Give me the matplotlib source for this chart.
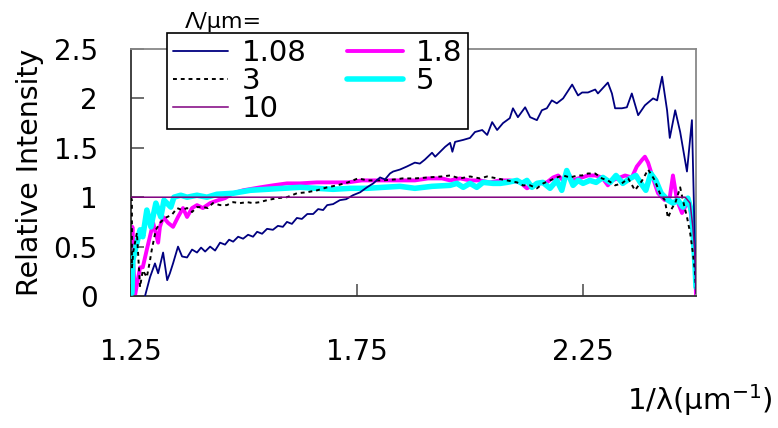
import matplotlib
matplotlib.use("Agg")
import matplotlib.pyplot as plt
import numpy as np

plt.rcParams["font.family"] = ["DejaVu Sans"]

# Lambda / um values shown in the legend
labels = ["1.08", "1.8", "3", "5", "10"]

# 1/lambda (um^-1) and relative intensity
x_108 = [1.281, 1.292, 1.303, 1.310, 1.321, 1.330, 1.336, 1.343, 1.352, 1.354, 1.363, 1.374,
         1.385, 1.396, 1.405, 1.414, 1.425, 1.436, 1.447, 1.458, 1.467, 1.476, 1.487, 1.498,
         1.509, 1.520, 1.529, 1.540, 1.551, 1.564, 1.575, 1.586, 1.595, 1.606, 1.617, 1.628,
         1.640, 1.653, 1.664, 1.675, 1.684, 1.697, 1.712, 1.726, 1.741, 1.757, 1.772, 1.786,
         1.801, 1.812, 1.823, 1.830, 1.845, 1.860, 1.878, 1.889, 1.900, 1.916, 1.923, 1.945,
         1.956, 1.961, 1.967, 1.985, 2.000, 2.011, 2.027, 2.038, 2.049, 2.060, 2.073, 2.088,
         2.095, 2.106, 2.122, 2.133, 2.148, 2.159, 2.170, 2.181, 2.192, 2.206, 2.226, 2.239,
         2.248, 2.261, 2.277, 2.283, 2.305, 2.314, 2.321, 2.336, 2.347, 2.358, 2.372, 2.387,
         2.405, 2.414, 2.425, 2.436, 2.442, 2.454, 2.465, 2.480, 2.491, 2.500]
y_108 = [0.00, 0.19, 0.33, 0.23, 0.44, 0.16, 0.23, 0.33, 0.47, 0.50, 0.40, 0.39,
         0.47, 0.44, 0.49, 0.45, 0.50, 0.46, 0.54, 0.52, 0.57, 0.55, 0.60, 0.58,
         0.62, 0.60, 0.65, 0.63, 0.68, 0.67, 0.71, 0.70, 0.75, 0.73, 0.79, 0.78,
         0.83, 0.83, 0.88, 0.87, 0.92, 0.93, 0.97, 0.98, 1.02, 1.05, 1.10, 1.14,
         1.20, 1.18, 1.24, 1.26, 1.28, 1.31, 1.35, 1.34, 1.38, 1.45, 1.41, 1.51,
         1.55, 1.46, 1.56, 1.58, 1.60, 1.66, 1.68, 1.63, 1.76, 1.68, 1.75, 1.80,
         1.90, 1.81, 1.91, 1.81, 1.78, 1.88, 1.90, 1.98, 1.95, 2.00, 2.14, 2.03,
         2.06, 2.06, 2.09, 2.05, 2.16, 2.05, 1.90, 1.90, 1.91, 2.05, 1.83, 1.93,
         2.00, 1.98, 2.22, 1.88, 1.60, 1.88, 1.66, 1.26, 1.78, 0.03]

x_18 = [1.252, 1.253, 1.255, 1.259, 1.270, 1.276, 1.285, 1.299, 1.310, 1.314, 1.321, 1.332,
        1.343, 1.354, 1.365, 1.374, 1.385, 1.396, 1.409, 1.425, 1.443, 1.458, 1.476, 1.498,
        1.536, 1.564, 1.595, 1.624, 1.661, 1.701, 1.730, 1.761, 1.790, 1.819, 1.850, 1.878,
        1.907, 1.938, 1.956, 1.978, 2.000, 2.022, 2.044, 2.066, 2.088, 2.111, 2.126, 2.139,
        2.155, 2.170, 2.184, 2.195, 2.206, 2.217, 2.228, 2.239, 2.248, 2.261, 2.277, 2.292,
        2.305, 2.314, 2.327, 2.343, 2.358, 2.369, 2.381, 2.387, 2.394, 2.405, 2.416, 2.431,
        2.442, 2.449, 2.458, 2.469, 2.480, 2.487, 2.493, 2.498, 2.500]
y_18 = [0.00, 0.70, 0.33, 0.01, 0.29, 0.29, 0.47, 0.74, 0.54, 0.70, 0.80, 0.74,
        0.70, 0.80, 0.89, 0.80, 0.89, 0.92, 0.89, 0.94, 0.97, 0.99, 1.04, 1.07,
        1.10, 1.12, 1.14, 1.14, 1.15, 1.15, 1.15, 1.17, 1.17, 1.17, 1.17, 1.17,
        1.19, 1.19, 1.17, 1.19, 1.17, 1.17, 1.15, 1.17, 1.17, 1.15, 1.09, 1.12,
        1.14, 1.15, 1.20, 1.22, 1.17, 1.24, 1.17, 1.19, 1.20, 1.22, 1.22, 1.20,
        1.12, 1.17, 1.19, 1.22, 1.20, 1.31, 1.38, 1.41, 1.35, 1.19, 1.04, 0.97,
        1.00, 1.22, 0.97, 0.84, 0.94, 0.90, 0.64, 0.36, 0.00]

x_3 = [1.250, 1.252, 1.252, 1.255, 1.263, 1.270, 1.276, 1.285, 1.292, 1.296, 1.305, 1.314,
       1.325, 1.340, 1.352, 1.363, 1.374, 1.385, 1.396, 1.410, 1.420, 1.431, 1.447, 1.462,
       1.476, 1.491, 1.507, 1.520, 1.535, 1.551, 1.573, 1.595, 1.617, 1.639, 1.662, 1.684,
       1.706, 1.730, 1.752, 1.774, 1.805, 1.834, 1.850, 1.878, 1.907, 1.938, 1.956, 1.978,
       2.000, 2.022, 2.038, 2.060, 2.082, 2.104, 2.117, 2.133, 2.148, 2.162, 2.177, 2.192,
       2.206, 2.221, 2.239, 2.248, 2.261, 2.277, 2.292, 2.305, 2.321, 2.336, 2.350, 2.365,
       2.381, 2.394, 2.409, 2.420, 2.431, 2.438, 2.447, 2.454, 2.465, 2.471, 2.480, 2.487,
       2.493, 2.498, 2.500]
y_3 = [1.00, 0.97, 0.29, 0.45, 0.64, 0.09, 0.26, 0.19, 0.36, 0.47, 0.67, 0.74,
       0.79, 0.82, 0.89, 0.87, 0.89, 0.85, 0.90, 0.90, 0.89, 0.94, 0.92, 0.92,
       0.95, 0.94, 0.95, 0.94, 0.95, 0.97, 0.99, 1.00, 1.04, 1.05, 1.07, 1.10,
       1.12, 1.15, 1.19, 1.17, 1.17, 1.18, 1.19, 1.19, 1.20, 1.21, 1.22, 1.19,
       1.21, 1.19, 1.21, 1.19, 1.17, 1.15, 1.12, 1.12, 1.09, 1.14, 1.17, 1.20,
       1.22, 1.20, 1.22, 1.22, 1.24, 1.24, 1.19, 1.17, 1.12, 1.14, 1.19, 1.07,
       1.17, 1.28, 1.17, 1.04, 0.97, 0.79, 0.89, 0.94, 1.10, 0.97, 0.80, 0.64,
       0.44, 0.23, 0.03]

x_5 = [1.252, 1.254, 1.259, 1.270, 1.276, 1.285, 1.294, 1.305, 1.316, 1.323, 1.338, 1.345,
       1.360, 1.374, 1.396, 1.418, 1.440, 1.476, 1.514, 1.551, 1.587, 1.624, 1.661, 1.697,
       1.735, 1.772, 1.808, 1.845, 1.878, 1.916, 1.956, 1.971, 1.985, 2.000, 2.015, 2.029,
       2.051, 2.067, 2.082, 2.104, 2.115, 2.126, 2.137, 2.148, 2.161, 2.177, 2.192, 2.203,
       2.214, 2.228, 2.239, 2.250, 2.265, 2.279, 2.294, 2.310, 2.323, 2.338, 2.354, 2.367,
       2.378, 2.389, 2.400, 2.411, 2.423, 2.438, 2.449, 2.460, 2.471, 2.482, 2.491, 2.498,
       2.500]
y_5 = [0.03, 0.36, 0.46, 0.67, 0.60, 0.87, 0.70, 0.94, 0.80, 0.97, 0.90, 1.00,
       1.02, 1.00, 1.02, 1.00, 1.03, 1.04, 1.07, 1.08, 1.09, 1.10, 1.09, 1.08,
       1.09, 1.09, 1.10, 1.11, 1.09, 1.11, 1.12, 1.14, 1.10, 1.14, 1.10, 1.15,
       1.14, 1.14, 1.15, 1.17, 1.14, 1.17, 1.10, 1.14, 1.15, 1.09, 1.17, 1.07,
       1.27, 1.12, 1.17, 1.14, 1.17, 1.15, 1.20, 1.15, 1.22, 1.14, 1.19, 1.22,
       1.14, 1.07, 1.24, 1.17, 1.04, 0.97, 0.94, 0.97, 0.90, 0.99, 0.84, 0.29,
       0.09]

x_10 = [1.250, 2.476, 2.487, 2.493, 2.500, 2.500]
y_10 = [1.00, 1.00, 0.94, 0.70, 0.29, 0.03]

x_ticks = [1.25, 1.75, 2.25]
x_tick_labels = ["1.25", "1.75", "2.25"]
y_ticks = [0, 0.5, 1, 1.5, 2, 2.5]
y_tick_labels = ["0", "0.5", "1", "1.5", "2", "2.5"]

fig = plt.figure(figsize=(7.78, 4.28), dpi=100)
ax = fig.add_axes([0.1684, 0.3084, 0.7262, 0.5771])

style = dict(solid_joinstyle="round", solid_capstyle="round")
l18, = ax.plot(x_18, y_18, color="#ff00ff", lw=2.8, zorder=2, **style)
l5, = ax.plot(x_5, y_5, color="#00ffff", lw=4.0, zorder=3, **style)
l3, = ax.plot(x_3, y_3, color="black", lw=1.4, ls=(0, (2, 2)), zorder=4)
l108, = ax.plot(x_108, y_108, color="#000080", lw=1.3, zorder=5, **style)
l10, = ax.plot(x_10, y_10, color="#800080", lw=1.1, zorder=6)

ax.set_xlim(1.25, 2.5)
ax.set_ylim(0, 2.5)
ax.set_xticks(x_ticks)
ax.set_xticklabels(x_tick_labels)
ax.set_yticks(y_ticks)
ax.set_yticklabels(y_tick_labels)
ax.tick_params(axis="both", direction="in", length=9, width=1.2, color="#555555",
               labelsize=20, top=False, right=False)
ax.tick_params(axis="x", pad=30)
ax.tick_params(axis="y", pad=24)

for side in ["left", "bottom"]:
    ax.spines[side].set_color("#333333")
    ax.spines[side].set_linewidth(1.3)
for side in ["top", "right"]:
    ax.spines[side].set_color("#888888")
    ax.spines[side].set_linewidth(1.3)

ax.set_ylabel("Relative Intensity", fontsize=20.5, labelpad=7)
fig.text(0.9, 0.065, "1/λ(μm$^{\\mathregular{-1}}$)", fontsize=21, ha="center", va="center")

handles = [l108, l3, l10, l18, l5]
leg_labels = [labels[0], labels[2], labels[4], labels[1], labels[3]]
leg = fig.legend(handles, leg_labels, ncol=2, loc="upper left",
                 bbox_to_anchor=(167 / 778, 1 - 33 / 428), fontsize=21,
                 frameon=True, fancybox=False, edgecolor="black", framealpha=1,
                 handlelength=1.9, handletextpad=0.45, columnspacing=1.4,
                 labelspacing=0.0, borderpad=0.2, borderaxespad=0)
leg.get_frame().set_linewidth(1.2)
leg.set_zorder(10)
fig.text(185 / 778, 1 - 22 / 428, "Λ/μm=", fontsize=16, ha="left", va="center")

fig.savefig("out.png", dpi=100)
